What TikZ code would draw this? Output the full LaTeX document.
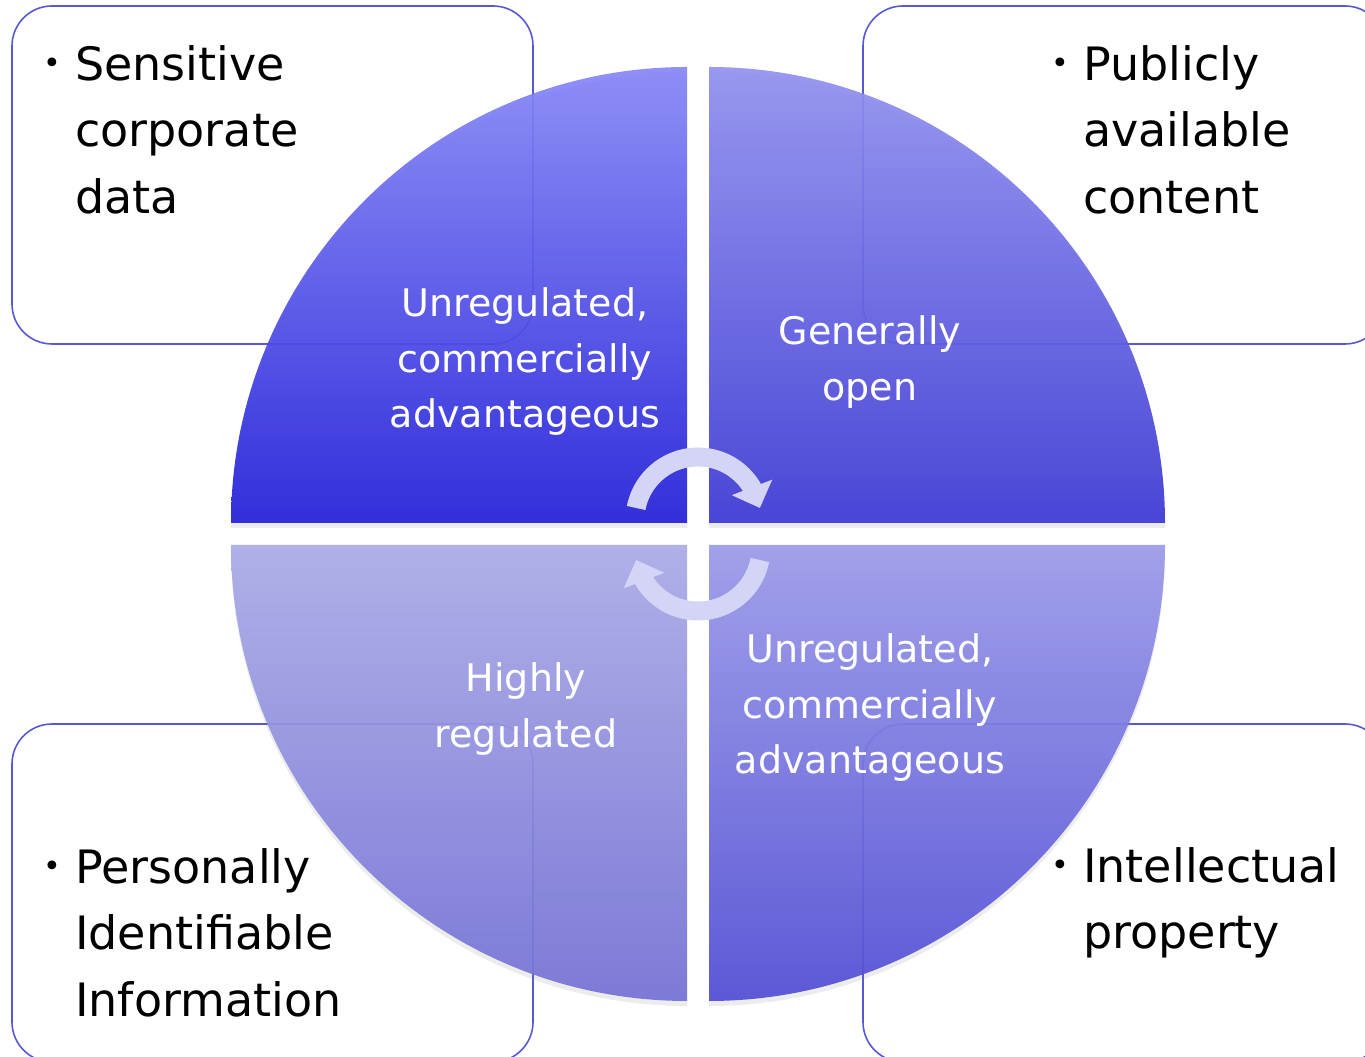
\documentclass[tikz,border=0pt]{standalone}
\usepackage{fontspec}
\setmainfont{DejaVu Sans}
\usetikzlibrary{arrows.meta,bending,shadows}

\definecolor{boxline}{RGB}{88,88,212}
\definecolor{tltop}{RGB}{136,136,248}
\definecolor{tlbot}{RGB}{36,33,218}
\definecolor{trtop}{RGB}{146,146,240}
\definecolor{trbot}{RGB}{62,58,214}
\definecolor{bltop}{RGB}{172,172,232}
\definecolor{blbot}{RGB}{116,114,214}
\definecolor{brtop}{RGB}{156,156,234}
\definecolor{brbot}{RGB}{82,78,214}
\definecolor{cyclefill}{RGB}{212,212,247}

\newcommand{\itembullet}{\llap{\raisebox{7pt}{\fontsize{30}{30}\selectfont •}\hspace{14pt}}}

\begin{document}
\begin{tikzpicture}[x=1pt,y=1pt]
    \tikzstyle{infobox}=[draw=boxline, line width=1.6pt, fill=white, rounded corners=40pt]
    \tikzstyle{quad}=[fill opacity=0.93, drop shadow={opacity=0.15, shadow xshift=0pt, shadow yshift=-5pt}]
    \tikzstyle{quadtext}=[text=white, align=center, inner sep=0pt, anchor=north, font=\fontsize{38}{55.5}\selectfont]
    \tikzstyle{itemtext}=[text=black, align=left, inner sep=0pt, anchor=north west, font=\fontsize{46}{66.5}\selectfont]
    \tikzstyle{cyclearrow}=[draw=cyclefill, line width=19pt, -{Triangle[length=22pt, width=42pt]}]
    \def\rquad{456pt}
    \def\rcyc{63pt}

    \useasboundingbox (0,0) rectangle (1365,1057);
    \clip (0,0) rectangle (1365,1057);

    % boxes behind the circle
    \draw[infobox] (12,713) rectangle (533,1051);
    \draw[infobox] (863,713) rectangle (1385,1051);
    \draw[infobox] (12,-5) rectangle (533,333);
    \draw[infobox] (863,-5) rectangle (1385,333);

    % four quarters
    \path[quad, top color=tltop, bottom color=tlbot]
        (687,534) -- (231,534) arc[start angle=180, end angle=90, radius=\rquad] -- cycle;
    \path[quad, top color=trtop, bottom color=trbot]
        (709,534) -- (709,990) arc[start angle=90, end angle=0, radius=\rquad] -- cycle;
    \path[quad, top color=bltop, bottom color=blbot]
        (687,512) -- (687,56) arc[start angle=270, end angle=180, radius=\rquad] -- cycle;
    \path[quad, top color=brtop, bottom color=brbot]
        (709,512) -- (1165,512) arc[start angle=0, end angle=-90, radius=\rquad] -- cycle;

    % cycle arrows
    \coordinate (cyctop) at (698,537);
    \coordinate (cycbot) at (698,509);
    \draw[cyclearrow] ([shift={(169:\rcyc)}]cyctop) arc[start angle=169, end angle=11, radius=\rcyc];
    \draw[cyclearrow] ([shift={(-11:\rcyc)}]cycbot) arc[start angle=-11, end angle=-169, radius=\rcyc];

    % quarter labels
    \node[quadtext] (tlquad) at (525,779.5) {\strut Unregulated,\\commercially\\advantageous};
    \node[quadtext] (trquad) at (870,751.5) {\strut Generally\\open};
    \node[quadtext] (blquad) at (526,404.5) {\strut Highly\\regulated};
    \node[quadtext] (brquad) at (870,433.5) {\strut Unregulated,\\commercially\\advantageous};

    % box items
    \node[itemtext] (tlitem) at (75,1023.5) {\strut\itembullet Sensitive\\corporate\\data};
    \node[itemtext] (tritem) at (1083,1023.5) {\strut\itembullet Publicly\\available\\content};
    \node[itemtext] (blitem) at (75,220.5) {\strut\itembullet Personally\\Identifiable\\Information};
    \node[itemtext] (britem) at (1083,221.5) {\strut\itembullet Intellectual\\property};
\end{tikzpicture}
\end{document}
